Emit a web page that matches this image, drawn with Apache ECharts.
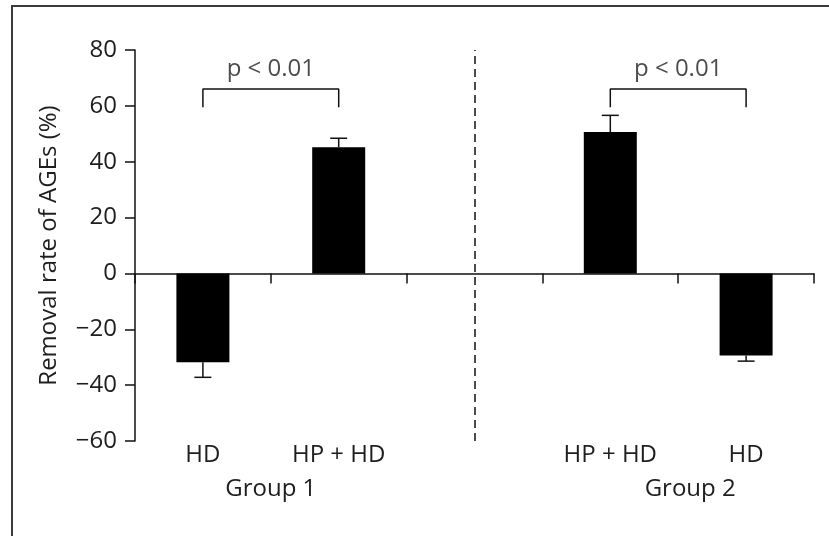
<!DOCTYPE html>
<html><head><meta charset="utf-8">
<script src="https://cdn.jsdelivr.net/npm/echarts@6/dist/echarts.min.js"></script>
<style>html,body{margin:0;padding:0;background:#fff}#c{width:829px;height:536px}</style>
</head><body><div id="c"></div>
<script>
const categories = ['HD', 'HP + HD', '', 'HP + HD', 'HD'];
const groupLabels = ['Group 1', 'Group 2'];
const groupPositions = [1, 4];
const values = [-31.8, 45.2, null, 50.6, -29.4];
const errors = [5.4, 3.2, null, 6.0, 2.0];
const bracketPairs = [[0.5, 1.5], [3.5, 4.5]];
const bracketLeg = 59.5;
const bracketTop = 66;
const pLabels = ['p < 0.01', 'p < 0.01'];
const pLabelY = 73;
const dividerX = 2.5;
const yTicks = { min: -60, max: 80, interval: 20 };

const FONT = 'Open Sans';
const TXT = '#1e1e1e';
const FS = 24;

const errData = [];
values.forEach((v, i) => { if (v !== null) errData.push([i, v, errors[i]]); });

const bracketSeries = bracketPairs.map(p => ({
  type: 'line', xAxisIndex: 2, yAxisIndex: 0, symbol: 'none', silent: true,
  lineStyle: { color: '#111', width: 1.5 },
  data: [[p[0], bracketLeg], [p[0], bracketTop], [p[1], bracketTop], [p[1], bracketLeg]],
  z: 5
}));

const chart = echarts.init(document.getElementById('c'));
chart.setOption({
  animation: false,
  backgroundColor: '#fff',
  graphic: [{
    type: 'rect', shape: { x: 12, y: 6, width: 900, height: 700 },
    style: { fill: 'none', stroke: '#3a3a3a', lineWidth: 2 }, silent: true
  }],
  grid: { left: 135, right: 15, top: 50, bottom: 95 },
  xAxis: [
    {
      type: 'category', data: categories,
      axisLine: { onZero: true, lineStyle: { color: '#111', width: 1.5 } },
      axisTick: { show: true, length: 10, lineStyle: { color: '#111', width: 1.5 } },
      axisLabel: { show: false }, splitLine: { show: false }
    },
    {
      type: 'category', data: categories, position: 'bottom',
      axisLine: { show: false, onZero: false }, axisTick: { show: false },
      axisLabel: { margin: 2, color: TXT, fontFamily: FONT, fontSize: FS },
      splitLine: { show: false }
    },
    {
      type: 'value', min: 0, max: 5, interval: 1, position: 'bottom',
      axisLine: { show: false, onZero: false }, axisTick: { show: false },
      splitLine: { show: false },
      axisLabel: {
        margin: 36, color: TXT, fontFamily: FONT, fontSize: FS,
        formatter: v => {
          const k = groupPositions.indexOf(v);
          if (k < 0) return '';
          return k === 1 ? '{g2|' + groupLabels[k] + '}' : groupLabels[k];
        },
        rich: { g2: { padding: [0, 0, 0, 24], color: TXT, fontFamily: FONT, fontSize: FS } }
      }
    }
  ],
  yAxis: {
    type: 'value', min: yTicks.min, max: yTicks.max, interval: yTicks.interval,
    name: 'Removal rate of AGEs (%)', nameLocation: 'middle', nameGap: 74,
    nameTextStyle: { color: TXT, fontFamily: FONT, fontSize: FS },
    axisLine: { show: true, lineStyle: { color: '#111', width: 1.5 } },
    axisTick: { show: true, length: 10, lineStyle: { color: '#111', width: 1.5 } },
    axisLabel: { margin: 18, color: TXT, fontFamily: FONT, fontSize: FS,
      formatter: v => String(v).replace('-', '\u2212') },
    splitLine: { show: false }
  },
  series: [
    {
      type: 'bar', xAxisIndex: 0, data: values, barWidth: 53,
      itemStyle: { color: '#000' }, z: 3
    },
    {
      type: 'custom', xAxisIndex: 0, yAxisIndex: 0, data: errData, z: 4,
      renderItem: (params, api) => {
        const i = api.value(0), v = api.value(1), e = api.value(2);
        const end = v + (v >= 0 ? e : -e);
        const p0 = api.coord([i, v]);
        const p1 = api.coord([i, end]);
        const half = 8.5;
        const st = { stroke: '#111', lineWidth: 1.5 };
        return {
          type: 'group', children: [
            { type: 'line', shape: { x1: p0[0], y1: p0[1], x2: p1[0], y2: p1[1] }, style: st },
            { type: 'line', shape: { x1: p1[0] - half, y1: p1[1], x2: p1[0] + half, y2: p1[1] }, style: st }
          ]
        };
      }
    },
    ...bracketSeries,
    {
      type: 'scatter', xAxisIndex: 2, yAxisIndex: 0, symbolSize: 0, silent: true,
      data: groupPositions.map((x, k) => ({ value: [x, pLabelY], name: pLabels[k] })),
      label: { show: true, position: 'inside', formatter: p => p.name,
        color: TXT, fontFamily: FONT, fontSize: FS }
    },
    {
      type: 'line', xAxisIndex: 2, yAxisIndex: 0, data: [], symbol: 'none', silent: true,
      markLine: {
        symbol: 'none', silent: true, label: { show: false },
        lineStyle: { color: '#111', width: 1.5, type: [8, 5] },
        data: [{ xAxis: dividerX }]
      }
    }
  ]
});
</script>
</body></html>
